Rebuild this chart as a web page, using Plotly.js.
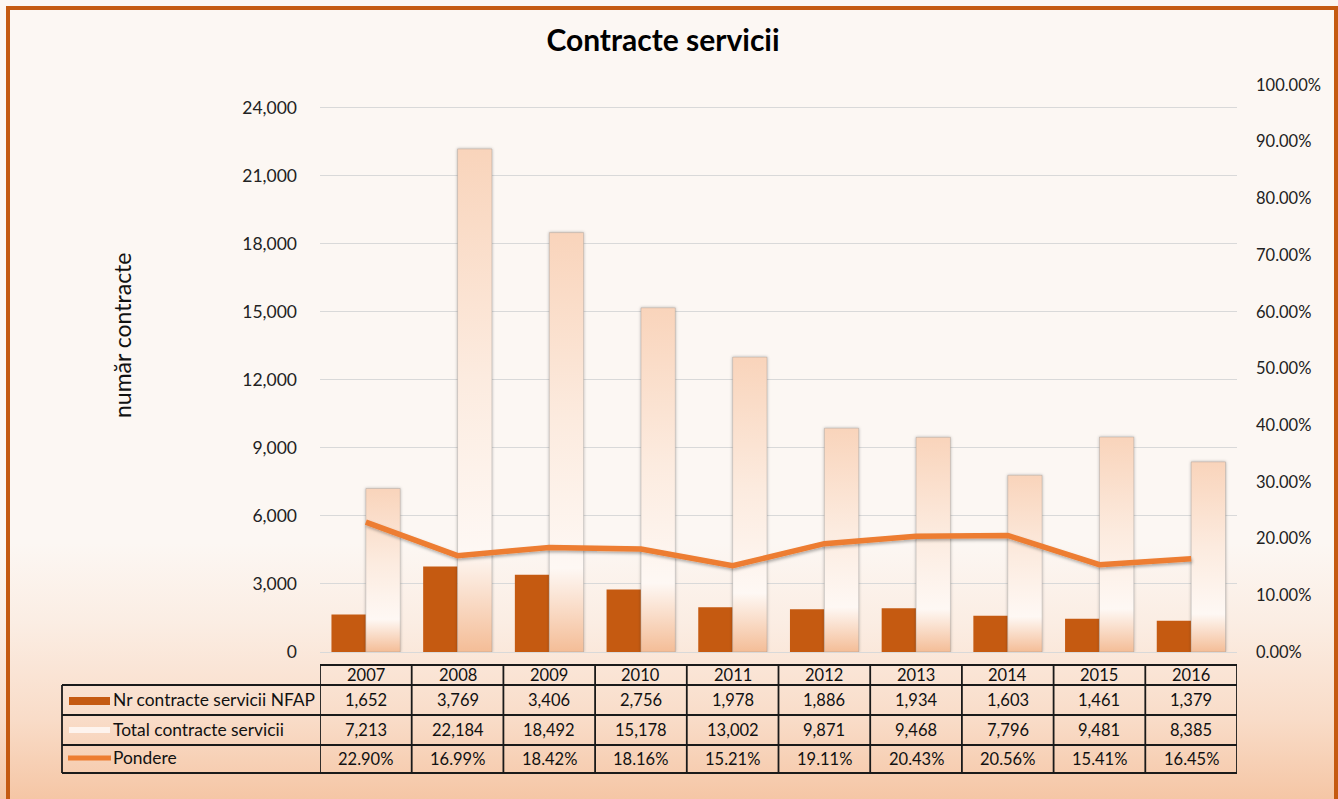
<!DOCTYPE html>
<html>
<head>
<meta charset="utf-8">
<script src="https://cdn.plot.ly/plotly-3.0.1.min.js"></script>
<style>
  html, body { margin: 0; padding: 0; }
  body {
    width: 1338px; height: 799px; overflow: hidden;
    background: linear-gradient(to bottom, #FCF7F3 0%, #FCF7F3 68%, #FBEDE3 78%, #F9DCC8 90%, #F5C6A5 100%);
  }
  #chart { width: 1338px; height: 799px; }
</style>
</head>
<body>
<div id="chart"></div>
<script>
// ---- data ----
const years = ['2007','2008','2009','2010','2011','2012','2013','2014','2015','2016'];
const nfap = [1652, 3769, 3406, 2756, 1978, 1886, 1934, 1603, 1461, 1379];
const total = [7213, 22184, 18492, 15178, 13002, 9871, 9468, 7796, 9481, 8385];
const pondere = [0.2290, 0.1699, 0.1842, 0.1816, 0.1521, 0.1911, 0.2043, 0.2056, 0.1541, 0.1645];
const seriesNames = ['Nr contracte servicii NFAP', 'Total contracte servicii', 'Pondere'];

// ---- layout geometry (pixels) ----
const W = 1338, H = 799;
const L = 320, R = 1237, T = 85, B = 652;
const px = p => (p - L) / (R - L);
const py = p => (B - p) / (B - T);
const FONT = 'Lato, "Open Sans", sans-serif';

const traces = [
  { type: 'bar', name: seriesNames[0], x: years, y: nfap,
    marker: { color: '#C55A11' }, hoverinfo: 'skip' },
  { type: 'bar', name: seriesNames[1], x: years, y: total,
    marker: { color: '#FBE3D3', line: { color: 'rgba(140,140,140,0.35)', width: 1 } }, hoverinfo: 'skip' },
  { type: 'scatter', mode: 'lines', name: seriesNames[2], x: years, y: pondere, yaxis: 'y2',
    line: { color: '#ED7D31', width: 5.5 }, hoverinfo: 'skip' }
];

const shapes = [];
const annotations = [];
const lineC = '#1a1a1a';
const lw = 1.8;
// table horizontal lines
shapes.push({ type: 'line', xref: 'paper', yref: 'paper', x0: px(L), x1: px(R), y0: py(665), y1: py(665), line: { color: lineC, width: lw } });
[685, 715, 745, 773].forEach(r => shapes.push({ type: 'line', xref: 'paper', yref: 'paper', x0: px(62), x1: px(R), y0: py(r), y1: py(r), line: { color: lineC, width: lw } }));
// table vertical lines
for (let i = 0; i <= years.length; i++) {
  shapes.push({ type: 'line', xref: 'x', yref: 'paper', x0: i - 0.5, x1: i - 0.5, y0: py(665), y1: py(773), line: { color: lineC, width: lw } });
}
shapes.push({ type: 'line', xref: 'paper', yref: 'paper', x0: px(62), x1: px(62), y0: py(685), y1: py(773), line: { color: lineC, width: lw } });
// legend swatches in label column
shapes.push({ type: 'rect', xref: 'paper', yref: 'paper', x0: px(69), x1: px(110), y0: py(697), y1: py(705), fillcolor: '#C55A11', line: { width: 0 } });
shapes.push({ type: 'rect', xref: 'paper', yref: 'paper', x0: px(69), x1: px(110), y0: py(727), y1: py(733), fillcolor: '#FEF4EE', line: { width: 0 } });
shapes.push({ type: 'line', xref: 'paper', yref: 'paper', x0: px(68), x1: px(111), y0: py(758), y1: py(758), line: { color: '#ED7D31', width: 5 } });
// outer frame
shapes.push({ type: 'line', xref: 'paper', yref: 'paper', x0: px(8), x1: px(8), y0: py(8), y1: py(H + 5), line: { color: '#C55A11', width: 4 } });
shapes.push({ type: 'line', xref: 'paper', yref: 'paper', x0: px(6), x1: px(1338), y0: py(8), y1: py(8), line: { color: '#C55A11', width: 4 } });
shapes.push({ type: 'line', xref: 'paper', yref: 'paper', x0: px(1336), x1: px(1336), y0: py(6), y1: py(H + 5), line: { color: '#C55A11', width: 4 } });

const tf = { family: FONT, size: 16.5, color: '#111' };
const lf = { family: FONT, size: 17.4, color: '#111' };
const rowY = [675, 700, 730, 759];
years.forEach((yr, i) => {
  annotations.push({ xref: 'x', yref: 'paper', x: i, y: py(rowY[0]), text: yr, showarrow: false, font: tf, xanchor: 'center', yanchor: 'middle' });
  annotations.push({ xref: 'x', yref: 'paper', x: i, y: py(rowY[1]), text: nfap[i].toLocaleString('en-US'), showarrow: false, font: tf, xanchor: 'center', yanchor: 'middle' });
  annotations.push({ xref: 'x', yref: 'paper', x: i, y: py(rowY[2]), text: total[i].toLocaleString('en-US'), showarrow: false, font: tf, xanchor: 'center', yanchor: 'middle' });
  annotations.push({ xref: 'x', yref: 'paper', x: i, y: py(rowY[3]), text: (pondere[i] * 100).toFixed(2) + '%', showarrow: false, font: tf, xanchor: 'center', yanchor: 'middle' });
});
seriesNames.forEach((nm, k) => {
  annotations.push({ xref: 'paper', yref: 'paper', x: px(111), y: py(rowY[k + 1] - 1), text: nm, showarrow: false, font: lf, xanchor: 'left', yanchor: 'middle' });
});
// y-axis title
annotations.push({ xref: 'paper', yref: 'paper', x: px(122), y: py(336), text: 'număr contracte', textangle: -90, showarrow: false,
  font: { family: FONT, size: 23, color: '#111' }, xanchor: 'center', yanchor: 'middle' });

const layout = {
  width: W, height: H,
  margin: { l: L, r: W - R, t: T, b: H - B, pad: 0 },
  paper_bgcolor: 'rgba(0,0,0,0)', plot_bgcolor: 'rgba(0,0,0,0)',
  title: { text: '<b>Contracte servicii</b>', font: { family: FONT, size: 30, color: '#000' },
    x: 663 / W, xanchor: 'center', y: 1 - 40 / H, yanchor: 'middle', xref: 'container', yref: 'container' },
  showlegend: false,
  barmode: 'group', bargap: 0.25, bargroupgap: 0,
  xaxis: { type: 'category', range: [-0.5, years.length - 0.5], autorange: false, showticklabels: false, showgrid: false, zeroline: false,
    showline: true, linecolor: '#D9D9D9', linewidth: 1, ticks: '' },
  yaxis: { range: [0, 25000], dtick: 3000, tick0: 0, tickformat: ',d', showgrid: true, gridcolor: '#D9D9D9', gridwidth: 1,
    zeroline: false, showline: false, ticks: '', ticklabelstandoff: 22,
    tickfont: { family: FONT, size: 17.5, color: '#222' } },
  yaxis2: { overlaying: 'y', side: 'right', range: [0, 1], dtick: 0.1, tick0: 0, tickformat: '.2%', showgrid: false,
    zeroline: false, showline: false, ticks: '', ticklabelstandoff: 18,
    tickfont: { family: FONT, size: 16.5, color: '#222' } },
  shapes: shapes,
  annotations: annotations
};

Plotly.newPlot('chart', traces, layout, { staticPlot: true, displayModeBar: false }).then(gd => {
  const svgNS = 'http://www.w3.org/2000/svg';
  const svg = gd.querySelector('.main-svg');
  let defs = svg.querySelector('defs');
  if (!defs) { defs = document.createElementNS(svgNS, 'defs'); svg.insertBefore(defs, svg.firstChild); }
  const g = document.createElementNS(svgNS, 'linearGradient');
  g.setAttribute('id', 'totGrad');
  g.setAttribute('x1', '0'); g.setAttribute('y1', '0'); g.setAttribute('x2', '0'); g.setAttribute('y2', '1');
  [['0', '#F9D4BB'], ['0.45', '#FCEBDF'], ['0.8', '#FEF8F4'], ['1', '#F4BD97']].forEach(([o, c]) => {
    const s = document.createElementNS(svgNS, 'stop');
    s.setAttribute('offset', o); s.setAttribute('stop-color', c); g.appendChild(s);
  });
  defs.appendChild(g);
  const f = document.createElementNS(svgNS, 'filter');
  f.setAttribute('id', 'shadow'); f.setAttribute('x', '-20%'); f.setAttribute('y', '-20%');
  f.setAttribute('width', '140%'); f.setAttribute('height', '140%');
  const ds = document.createElementNS(svgNS, 'feDropShadow');
  ds.setAttribute('dx', '1'); ds.setAttribute('dy', '2'); ds.setAttribute('stdDeviation', '1.5');
  ds.setAttribute('flood-color', '#000'); ds.setAttribute('flood-opacity', '0.3');
  f.appendChild(ds); defs.appendChild(f);
  const f2 = document.createElementNS(svgNS, 'filter');
  f2.setAttribute('id', 'barShadow'); f2.setAttribute('x', '-20%'); f2.setAttribute('y', '-5%');
  f2.setAttribute('width', '140%'); f2.setAttribute('height', '110%');
  const ds2 = document.createElementNS(svgNS, 'feDropShadow');
  ds2.setAttribute('dx', '0'); ds2.setAttribute('dy', '0'); ds2.setAttribute('stdDeviation', '1.5');
  ds2.setAttribute('flood-color', '#000'); ds2.setAttribute('flood-opacity', '0.3');
  f2.appendChild(ds2); defs.appendChild(f2);

  const barTraces = gd.querySelectorAll('.barlayer .trace');
  if (barTraces[1]) {
    barTraces[1].querySelectorAll('path').forEach(p => {
      p.style.fill = 'url(#totGrad)';
      p.setAttribute('filter', 'url(#barShadow)');
    });
  }
  gd.querySelectorAll('.scatterlayer .js-line').forEach(p => p.setAttribute('filter', 'url(#shadow)'));
});
</script>
</body>
</html>
